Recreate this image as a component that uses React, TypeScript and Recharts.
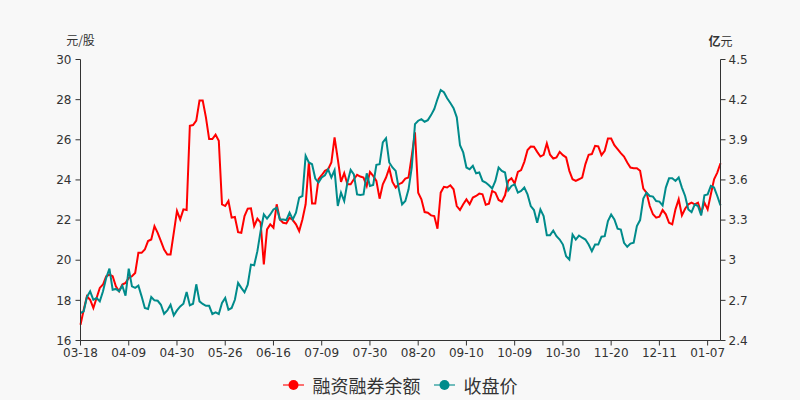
import React from 'react';
import { LineChart, Line, XAxis, YAxis, Legend } from 'recharts';

const dates: string[] = [
  '03-18','03-19','03-20','03-23','03-24','03-25','03-26','03-27','03-30','03-31','04-01','04-02','04-03','04-07','04-08',
  '04-09','04-10','04-13','04-14','04-15','04-16','04-17','04-20','04-21','04-22','04-23','04-24','04-27','04-28','04-29',
  '04-30','05-06','05-07','05-08','05-11','05-12','05-13','05-14','05-15','05-18','05-19','05-20','05-21','05-22','05-25',
  '05-26','05-27','05-28','05-29','06-01','06-02','06-03','06-04','06-05','06-08','06-09','06-10','06-11','06-12','06-15',
  '06-16','06-17','06-18','06-19','06-22','06-23','06-24','06-29','06-30','07-01','07-02','07-03','07-06','07-07','07-08',
  '07-09','07-10','07-13','07-14','07-15','07-16','07-17','07-20','07-21','07-22','07-23','07-24','07-27','07-28','07-29',
  '07-30','07-31','08-03','08-04','08-05','08-06','08-07','08-10','08-11','08-12','08-13','08-14','08-17','08-18','08-19',
  '08-20','08-21','08-24','08-25','08-26','08-27','08-28','08-31','09-01','09-02','09-03','09-04','09-07','09-08','09-09',
  '09-10','09-11','09-14','09-15','09-16','09-17','09-18','09-21','09-22','09-23','09-24','09-25','09-28','09-29','09-30',
  '10-09','10-12','10-13','10-14','10-15','10-16','10-19','10-20','10-21','10-22','10-23','10-26','10-27','10-28','10-29',
  '10-30','11-02','11-03','11-04','11-05','11-06','11-09','11-10','11-11','11-12','11-13','11-16','11-17','11-18','11-19',
  '11-20','11-23','11-24','11-25','11-26','11-27','11-30','12-01','12-02','12-03','12-04','12-07','12-08','12-09','12-10',
  '12-11','12-14','12-15','12-16','12-17','12-18','12-21','12-22','12-23','12-24','12-25','12-28','12-29','12-30','12-31',
  '01-07','01-08','01-11','01-12','01-13',
];

// 融资融券余额 (亿元)
const marginBalance: number[] = [
  2.518, 2.630, 2.730, 2.705, 2.643, 2.718, 2.793, 2.818, 2.880, 2.893,
  2.880, 2.805, 2.768, 2.818, 2.830, 2.868, 2.880, 2.905, 3.055, 3.055,
  3.080, 3.143, 3.155, 3.255, 3.205, 3.143, 3.080, 3.043, 3.043, 3.205,
  3.368, 3.305, 3.380, 3.375, 4.005, 4.010, 4.043, 4.193, 4.193, 4.068,
  3.905, 3.905, 3.938, 3.893, 3.418, 3.405, 3.443, 3.318, 3.323, 3.210,
  3.205, 3.330, 3.385, 3.388, 3.255, 3.310, 3.280, 2.968, 3.230, 3.268,
  3.243, 3.418, 3.305, 3.280, 3.275, 3.318, 3.300, 3.268, 3.218, 3.305,
  3.418, 3.730, 3.423, 3.423, 3.605, 3.635, 3.668, 3.680, 3.730, 3.918,
  3.755, 3.585, 3.650, 3.568, 3.568, 3.605, 3.638, 3.625, 3.618, 3.555,
  3.660, 3.630, 3.593, 3.460, 3.568, 3.618, 3.688, 3.585, 3.543, 3.568,
  3.580, 3.610, 3.618, 3.780, 3.955, 3.505, 3.455, 3.360, 3.355, 3.335,
  3.330, 3.235, 3.505, 3.548, 3.543, 3.560, 3.530, 3.405, 3.375, 3.418,
  3.455, 3.418, 3.468, 3.480, 3.498, 3.493, 3.415, 3.423, 3.518, 3.505,
  3.450, 3.438, 3.485, 3.593, 3.613, 3.573, 3.660, 3.673, 3.735, 3.823,
  3.850, 3.848, 3.810, 3.775, 3.788, 3.873, 3.788, 3.760, 3.768, 3.810,
  3.785, 3.768, 3.668, 3.605, 3.593, 3.605, 3.618, 3.718, 3.788, 3.793,
  3.855, 3.850, 3.785, 3.818, 3.910, 3.910, 3.860, 3.830, 3.800, 3.775,
  3.730, 3.693, 3.688, 3.688, 3.668, 3.535, 3.505, 3.405, 3.343, 3.318,
  3.325, 3.375, 3.343, 3.280, 3.268, 3.380, 3.455, 3.335, 3.385, 3.418,
  3.430, 3.418, 3.430, 3.355, 3.430, 3.380, 3.493, 3.605, 3.655, 3.725,
];

// 收盘价 (元/股)
const closePrice: number[] = [
  17.37, 17.45, 18.17, 18.45, 18.03, 18.12, 17.95, 18.45, 19.12, 19.58,
  18.53, 18.57, 18.45, 18.73, 18.23, 19.58, 18.70, 18.62, 18.73, 18.20,
  17.62, 17.57, 18.17, 18.00, 17.98, 17.78, 17.33, 17.50, 17.78, 17.25,
  17.50, 17.70, 17.83, 18.42, 17.75, 17.83, 18.80, 17.95, 17.82, 17.73,
  17.73, 17.32, 17.40, 17.32, 17.87, 18.12, 17.53, 17.62, 18.03, 18.87,
  18.62, 18.40, 18.78, 19.78, 19.75, 20.45, 21.45, 22.28, 22.07, 22.28,
  22.53, 22.62, 22.03, 22.03, 22.00, 22.37, 22.03, 22.37, 23.12, 23.20,
  25.20, 24.87, 24.78, 24.07, 23.87, 24.12, 24.23, 24.53, 24.12, 24.48,
  22.70, 23.37, 22.95, 23.87, 24.50, 24.28, 23.28, 23.25, 23.28, 24.33,
  23.70, 23.75, 24.75, 24.78, 25.87, 26.08, 24.87, 24.62, 24.45, 23.53,
  22.78, 22.95, 23.53, 24.62, 26.78, 26.95, 27.03, 26.90, 26.98, 27.23,
  27.53, 28.03, 28.48, 28.37, 28.07, 27.83, 27.57, 27.12, 25.73, 25.37,
  24.62, 24.53, 24.70, 24.33, 24.37, 23.95, 23.87, 23.73, 23.57, 23.95,
  24.62, 24.45, 24.37, 23.48, 23.70, 23.78, 23.37, 23.45, 23.62, 23.28,
  22.70, 22.50, 21.87, 22.53, 22.20, 21.25, 21.25, 21.48, 21.20, 21.03,
  20.78, 20.20, 20.03, 21.28, 21.03, 21.23, 21.12, 21.03, 20.78, 20.45,
  20.78, 20.78, 21.17, 21.20, 21.95, 22.28, 22.03, 21.57, 21.53, 20.87,
  20.67, 20.83, 20.87, 21.70, 22.00, 23.07, 23.37, 23.20, 23.17, 22.95,
  22.92, 22.73, 23.62, 24.08, 24.08, 23.95, 24.12, 23.62, 23.20, 22.53,
  22.40, 22.78, 22.70, 22.23, 23.23, 23.28, 23.70, 23.62, 23.20, 22.73,
];

const priceTicks = [16, 18, 20, 22, 24, 26, 28, 30];
const balanceTicks = [2.4, 2.7, 3, 3.3, 3.6, 3.9, 4.2, 4.5];
const seriesNames = { balance: '融资融券余额', price: '收盘价' };
const legendOrder = [seriesNames.balance, seriesNames.price];
const units = { price: '元/股', balanceStrong: '亿', balanceRest: '元' };
const colors = { balance: '#ff0000', price: '#008b8b' };

const data = dates.map((d, i) => ({ date: d, balance: marginBalance[i], price: closePrice[i] }));

const FONT = '"DejaVu Sans", "Noto Sans CJK SC", sans-serif';
const CJK = '"Noto Sans CJK SC", "DejaVu Sans", sans-serif';
const TEXT = '#333';

const renderLegend = (props: any) => {
  const payload = [...(props.payload || [])].sort(
    (a: any, b: any) => legendOrder.indexOf(a.value) - legendOrder.indexOf(b.value)
  );
  return (
    <div style={{ display: 'flex', justifyContent: 'center', alignItems: 'center', width: 800 }}>
      {payload.map((p: any, idx: number) => (
        <div key={p.value} style={{ display: 'flex', alignItems: 'center', marginLeft: idx === 0 ? 0 : 13 }}>
          <svg width={21} height={14} style={{ display: 'block' }}>
            <line x1={0} y1={7} x2={21} y2={7} stroke={p.color} strokeWidth={2} strokeOpacity={0.55} />
            <circle cx={10.5} cy={7} r={5} fill={p.color} />
          </svg>
          <span style={{ marginLeft: 9, fontSize: 18, color: TEXT, fontFamily: CJK, lineHeight: '24px' }}>{p.value}</span>
        </div>
      ))}
    </div>
  );
};

export default function App() {
  return (
    <div style={{ position: 'absolute', left: 0, top: 0, width: 800, height: 400, background: '#f8f8f8' }}>
      <LineChart
        width={800}
        height={400}
        data={data}
        margin={{ top: 59.5, right: 39.5, left: 20, bottom: 29.5 }}
      >
        <XAxis
          dataKey="date"
          interval={14}
          height={30}
          tickSize={5}
          tickMargin={3}
          axisLine={{ stroke: TEXT }}
          tickLine={{ stroke: TEXT }}
          tick={{ fill: TEXT, fontSize: 12, fontFamily: FONT }}
        />
        <YAxis
          yAxisId="price"
          orientation="left"
          width={60.5}
          domain={[16, 30]}
          ticks={priceTicks}
          allowDataOverflow
          tickSize={5}
          tickMargin={4}
          axisLine={{ stroke: TEXT }}
          tickLine={{ stroke: TEXT }}
          tick={{ fill: TEXT, fontSize: 12, fontFamily: FONT }}
          label={{
            content: (p: any) => {
              const vb = p.viewBox || {};
              return (
                <text x={vb.x + vb.width} y={vb.y - 20} textAnchor="middle" dominantBaseline="central" fontSize={12} fontFamily={CJK} fill={TEXT}>
                  {units.price}
                </text>
              );
            },
          }}
        />
        <YAxis
          yAxisId="balance"
          orientation="right"
          width={40}
          domain={[2.4, 4.5]}
          ticks={balanceTicks}
          allowDataOverflow
          tickSize={5}
          tickMargin={3}
          axisLine={{ stroke: TEXT }}
          tickLine={{ stroke: TEXT }}
          tick={{ fill: TEXT, fontSize: 12, fontFamily: FONT }}
          label={{
            content: (p: any) => {
              const vb = p.viewBox || {};
              return (
                <text x={vb.x} y={vb.y - 20} textAnchor="middle" dominantBaseline="central" fontSize={12} fontFamily={CJK} fill={TEXT}>
                  <tspan fontWeight="bold">{units.balanceStrong}</tspan>
                  <tspan>{units.balanceRest}</tspan>
                </text>
              );
            },
          }}
        />
        <Legend
          verticalAlign="middle"
          align="center"
          layout="horizontal"
          content={renderLegend}
          wrapperStyle={{ top: 373, left: 0, width: 800, height: 24 }}
        />
        <Line
          yAxisId="balance"
          dataKey="balance"
          name={seriesNames.balance}
          type="linear"
          stroke={colors.balance}
          strokeWidth={2}
          dot={false}
          activeDot={false}
          isAnimationActive={false}
        />
        <Line
          yAxisId="price"
          dataKey="price"
          name={seriesNames.price}
          type="linear"
          stroke={colors.price}
          strokeWidth={2}
          dot={false}
          activeDot={false}
          isAnimationActive={false}
        />
      </LineChart>
    </div>
  );
}
